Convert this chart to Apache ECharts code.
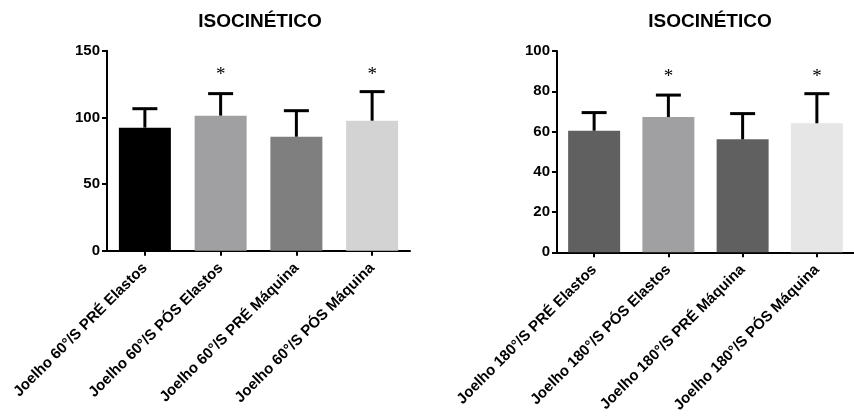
<!DOCTYPE html>
<html>
<head>
<meta charset="utf-8">
<script src="https://cdn.jsdelivr.net/npm/echarts@6/dist/echarts.min.js"></script>
<style>
html,body{margin:0;padding:0;background:#fff;}
#c{width:854px;height:419px;}
</style>
</head>
<body>
<div id="c"></div>
<script>
const titleText = 'ISOCINÉTICO';
const cats60 = ['Joelho 60°/S PRÉ Elastos','Joelho 60°/S PÓS Elastos','Joelho 60°/S PRÉ Máquina','Joelho 60°/S PÓS Máquina'];
const mean60 = [92.3, 101.3, 85.5, 97.5];
const sd60 = [14.2, 16.5, 19.5, 21.8];
const sig60 = [false, true, false, true];
const sigY60 = 134;
const ticks60 = [0, 50, 100, 150];

const cats180 = ['Joelho 180°/S PRÉ Elastos','Joelho 180°/S PÓS Elastos','Joelho 180°/S PRÉ Máquina','Joelho 180°/S PÓS Máquina'];
const mean180 = [60.4, 67.2, 56.1, 64.1];
const sd180 = [9.0, 10.9, 12.8, 14.7];
const sig180 = [false, true, false, true];
const sigY180 = 88.5;
const ticks180 = [0, 20, 40, 60, 80, 100];

const colors60 = ['#000000', '#a0a0a3', '#7f7f7f', '#d3d3d3'];
const colors180 = ['#606060', '#a0a0a3', '#606060', '#e6e6e6'];

const FONT = '"Liberation Sans", Arial, sans-serif';

function xAxisCfg(gridIndex, cats) {
  return {
    type: 'category', gridIndex: gridIndex, data: cats,
    axisLine: {lineStyle: {color: '#000', width: 2}},
    axisTick: {show: true, alignWithLabel: true, length: 5, lineStyle: {color: '#000', width: 2}},
    axisLabel: {rotate: 45, interval: 0, color: '#000', fontWeight: 'bold', fontSize: 15, fontFamily: FONT, margin: 15}
  };
}
function yAxisCfg(gridIndex, ticks) {
  return {
    type: 'value', gridIndex: gridIndex, min: ticks[0], max: ticks[ticks.length - 1],
    interval: ticks[1] - ticks[0],
    splitLine: {show: false},
    axisLine: {show: true, lineStyle: {color: '#000', width: 2}},
    axisTick: {show: true, length: 5, lineStyle: {color: '#000', width: 2}},
    axisLabel: {color: '#000', fontWeight: 'bold', fontSize: 15, fontFamily: FONT, margin: 7}
  };
}
function barSeries(idx, means, colors) {
  return {
    type: 'bar', xAxisIndex: idx, yAxisIndex: idx, barWidth: 52,
    data: means.map((v, i) => ({value: v, itemStyle: {color: colors[i]}})),
    z: 2
  };
}
function errSeries(idx, means, sds) {
  return {
    type: 'custom', xAxisIndex: idx, yAxisIndex: idx, z: 3,
    data: means.map((m, i) => [i, m, m + sds[i]]),
    renderItem: function (params, api) {
      const p0 = api.coord([api.value(0), api.value(1)]);
      const p1 = api.coord([api.value(0), api.value(2)]);
      const hw = 12.5;
      return {
        type: 'group',
        children: [
          {type: 'line', shape: {x1: p0[0], y1: p0[1], x2: p1[0], y2: p1[1]}, style: {stroke: '#000', lineWidth: 3}},
          {type: 'line', shape: {x1: p1[0] - hw, y1: p1[1], x2: p1[0] + hw, y2: p1[1]}, style: {stroke: '#000', lineWidth: 3}}
        ]
      };
    }
  };
}
function sigSeries(idx, sig, yPos) {
  return {
    type: 'custom', xAxisIndex: idx, yAxisIndex: idx, z: 4,
    data: sig.map((s, i) => s ? [i, yPos] : null).filter(d => d),
    renderItem: function (params, api) {
      const p = api.coord([api.value(0), api.value(1)]);
      return {
        type: 'text',
        style: {x: p[0], y: p[1] + 3, text: '*', fill: '#000', font: '19px "Liberation Serif", "DejaVu Serif", serif', align: 'center', verticalAlign: 'middle'}
      };
    }
  };
}

const chart = echarts.init(document.getElementById('c'), null, {renderer: 'canvas'});
chart.setOption({
  backgroundColor: '#fff',
  animation: false,
  title: [
    {text: titleText, left: 255, top: 7, textAlign: 'center', textStyle: {fontFamily: FONT, fontWeight: 'bold', fontSize: 19, color: '#000'}},
    {text: titleText, left: 705, top: 7, textAlign: 'center', textStyle: {fontFamily: FONT, fontWeight: 'bold', fontSize: 19, color: '#000'}}
  ],
  grid: [
    {left: 107, top: 50.7, width: 303, height: 200, containLabel: false},
    {left: 557, top: 51, width: 303, height: 201.3, containLabel: false}
  ],
  xAxis: [xAxisCfg(0, cats60), xAxisCfg(1, cats180)],
  yAxis: [yAxisCfg(0, ticks60), yAxisCfg(1, ticks180)],
  series: [
    barSeries(0, mean60, colors60),
    errSeries(0, mean60, sd60),
    sigSeries(0, sig60, sigY60),
    barSeries(1, mean180, colors180),
    errSeries(1, mean180, sd180),
    sigSeries(1, sig180, sigY180)
  ]
});
</script>
</body>
</html>
